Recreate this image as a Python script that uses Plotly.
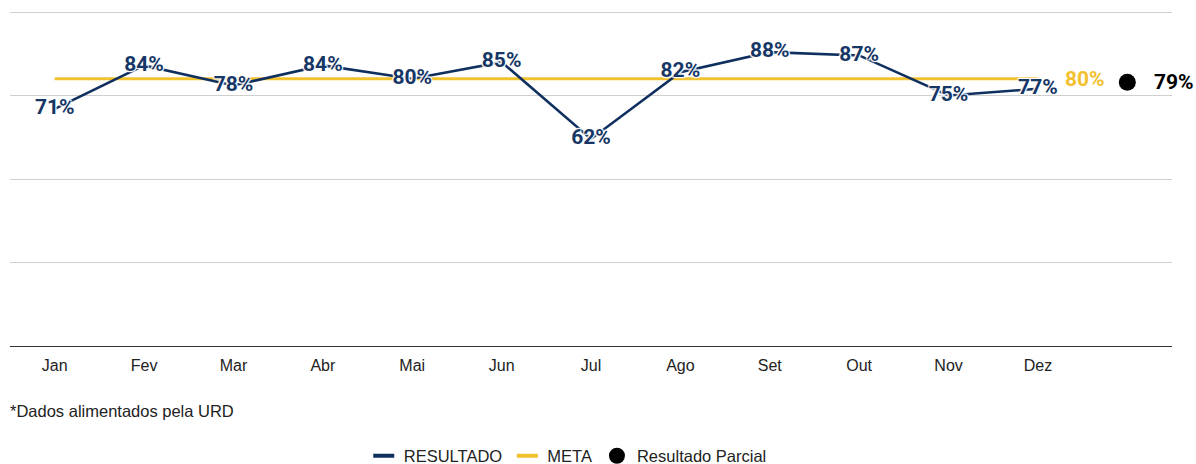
import plotly.graph_objects as go

months = ["Jan", "Fev", "Mar", "Abr", "Mai", "Jun", "Jul", "Ago", "Set", "Out", "Nov", "Dez"]
resultado = [71, 84, 78, 84, 80, 85, 62, 82, 88, 87, 75, 77]
meta = [80] * 12
parcial_label = "Parcial"
parcial_value = 79

categories = months + [parcial_label]
tick_text = months + [""]

NAVY = "#0f2f5e"
NAVY_TXT = "#163766"
YELLOW = "#f2c12e"
halo = "1px 1px 1px white, -1px -1px 1px white, 1px -1px 1px white, -1px 1px 1px white, 0px 0px 2px white"
LABEL_FONT = "Roboto"
TXT_FONT = "Liberation Sans, Arial"

fig = go.Figure()

fig.add_trace(go.Scatter(
    x=months, y=meta, mode="lines", name="META",
    line=dict(color=YELLOW, width=3), showlegend=False, cliponaxis=False,
))

fig.add_trace(go.Scatter(
    x=months, y=resultado, mode="lines+text", name="RESULTADO",
    line=dict(color=NAVY, width=2.6),
    text=[f"{v}%" for v in resultado], textposition="middle center",
    textfont=dict(family=LABEL_FONT, size=21, color=NAVY_TXT, weight="bold", shadow=halo),
    showlegend=False, cliponaxis=False,
))

fig.add_trace(go.Scatter(
    x=[parcial_label], y=[parcial_value], mode="markers", name="Resultado Parcial",
    marker=dict(color="black", size=17), showlegend=False, cliponaxis=False,
))

# legend entries (short thick dashes like the reference)
fig.add_trace(go.Scatter(
    x=[None], y=[None], mode="markers", name="RESULTADO",
    marker=dict(symbol="line-ew", size=15, color=NAVY, line=dict(color=NAVY, width=4)),
    legendrank=1,
))
fig.add_trace(go.Scatter(
    x=[None], y=[None], mode="markers", name="META",
    marker=dict(symbol="line-ew", size=15, color=YELLOW, line=dict(color=YELLOW, width=4)),
    legendrank=2,
))
fig.add_trace(go.Scatter(
    x=[None], y=[None], mode="markers", name="Resultado Parcial",
    marker=dict(color="black", size=16), legendrank=3,
))

fig.add_annotation(
    x=months[-1], y=meta[-1], text=f"{meta[-1]}%", showarrow=False,
    xanchor="left", yanchor="middle", xshift=25,
    font=dict(family=LABEL_FONT, size=21, color=YELLOW, weight="bold"),
)
fig.add_annotation(
    x=parcial_label, y=parcial_value, text=f"{parcial_value}%", showarrow=False,
    xanchor="left", yanchor="middle", xshift=25,
    font=dict(family=LABEL_FONT, size=21, color="black", weight="bold"),
)
fig.add_annotation(
    x=0, xref="paper", y=(346 - 411) / 336, yref="paper", text="*Dados alimentados pela URD",
    showarrow=False, xanchor="left", yanchor="middle", xshift=-2,
    font=dict(family=TXT_FONT, size=16.5, color="#222"),
)

fig.update_layout(
    width=1196, height=464,
    margin=dict(l=10, r=24, t=10, b=118, autoexpand=False),
    paper_bgcolor="white", plot_bgcolor="white",
    showlegend=True,
    legend=dict(orientation="h", x=0.48, xanchor="center", y=(346 - 456) / 336, yanchor="middle",
                font=dict(family=TXT_FONT, size=16.5, color="#222"),
                itemwidth=30, traceorder="normal"),
    font=dict(family=TXT_FONT, size=16, color="#222"),
)
fig.update_xaxes(
    type="category", categoryorder="array", categoryarray=categories,
    tickvals=categories, ticktext=tick_text, range=[-0.5, len(categories) - 0.5],
    showgrid=False, showline=True, linecolor="#333", linewidth=1,
    ticks="", tickfont=dict(family=TXT_FONT, size=16, color="#222"), ticklabelstandoff=5,
)
fig.update_yaxes(
    range=[0, 100.6], tickvals=[0, 25, 50, 75, 100], showticklabels=False,
    showgrid=True, gridcolor="#cfcfcf", gridwidth=1, zeroline=False,
)

fig.write_html("out.html", config={"displayModeBar": False})

with open("out.html", "r", encoding="utf-8") as f:
    html = f.read()
html = html.replace("<head>", "<head><style>html,body{margin:0;padding:0;overflow:hidden;}</style>", 1)
with open("out.html", "w", encoding="utf-8") as f:
    f.write(html)
